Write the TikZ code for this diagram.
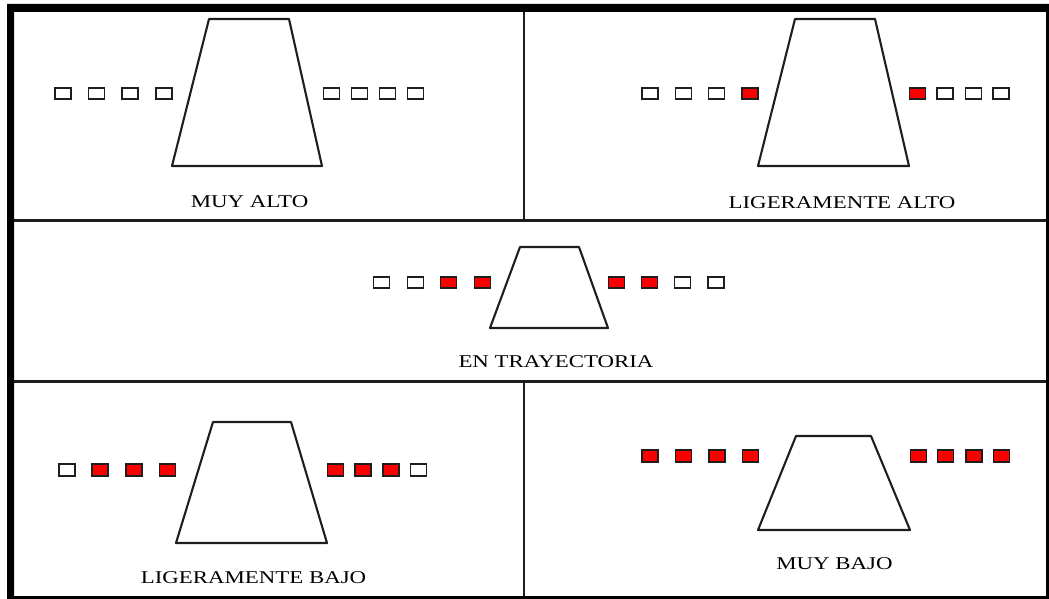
\documentclass[tikz,border=0pt]{standalone}
\usepackage{fontspec}
\newfontfamily\lblfont[FakeStretch=1.27]{Liberation Serif}
\definecolor{lampred}{RGB}{250,0,0}
\definecolor{ink}{RGB}{30,30,30}
\tikzset{
  lamp/.style={draw=ink, line width=1.8pt, minimum width=16pt, minimum height=11.5pt, inner sep=0pt, fill=white},
  lampon/.style={lamp, fill=lampred},
  strip/.style={draw=ink, line width=2.1pt, line join=round},
  divider/.style={draw=ink, line width=2.3pt},
  caption/.style={font=\lblfont\fontsize{18}{18}\selectfont, anchor=base, inner sep=0pt}
}
\begin{document}
\begin{tikzpicture}[x=1pt, y=-1pt]
\useasboundingbox (0,0) rectangle (1049,599);
% outer frame: heavy on top and left, light on right and bottom
\fill[black, even odd rule] (7,4) rectangle (1049,599) (14,12) rectangle (1046,596);
% panel dividers
\draw[divider] (14,220.5) -- (1046,220.5);
\draw[divider] (14,381.5) -- (1046,381.5);
\draw[divider] (524,12) -- (524,220.5);
\draw[divider] (524,381.5) -- (524,596);

% --- MUY ALTO ---
\draw[strip] (209,19) -- (289,19) -- (322,166) -- (172,166) -- cycle;
\node[lamp] (a1) at (63,93.5) {};
\node[lamp] (a2) at (96.5,93.5) {};
\node[lamp] (a3) at (130,93.5) {};
\node[lamp] (a4) at (164,93.5) {};
\node[lamp] (a5) at (331.5,93.5) {};
\node[lamp] (a6) at (359.5,93.5) {};
\node[lamp] (a7) at (387.5,93.5) {};
\node[lamp] (a8) at (415.5,93.5) {};
\node[caption] (ta) at (249.5,207) {MUY ALTO};

% --- LIGERAMENTE ALTO ---
\draw[strip] (795,19) -- (875,19) -- (909,166) -- (758,166) -- cycle;
\node[lamp] (b1) at (650,93.5) {};
\node[lamp] (b2) at (683.5,93.5) {};
\node[lamp] (b3) at (716.5,93.5) {};
\node[lampon] (b4) at (750,93.5) {};
\node[lampon] (b5) at (917.5,93.5) {};
\node[lamp] (b6) at (945,93.5) {};
\node[lamp] (b7) at (973.5,93.5) {};
\node[lamp] (b8) at (1001,93.5) {};
\node[caption] (tb) at (842,208) {LIGERAMENTE ALTO};

% --- EN TRAYECTORIA ---
\draw[strip] (520,247) -- (579,247) -- (608,328) -- (490,328) -- cycle;
\node[lamp] (c1) at (381.5,282.5) {};
\node[lamp] (c2) at (415.5,282.5) {};
\node[lampon] (c3) at (448.5,282.5) {};
\node[lampon] (c4) at (482.5,282.5) {};
\node[lampon] (c5) at (616.5,282.5) {};
\node[lampon] (c6) at (649.5,282.5) {};
\node[lamp] (c7) at (682.5,282.5) {};
\node[lamp] (c8) at (716,282.5) {};
\node[caption] (tc) at (556,367) {EN TRAYECTORIA};

% --- LIGERAMENTE BAJO ---
\draw[strip] (213,422) -- (291,422) -- (327,543) -- (176,543) -- cycle;
\node[lamp] (d1) at (67,470) {};
\node[lampon] (d2) at (100,470) {};
\node[lampon] (d3) at (134,470) {};
\node[lampon] (d4) at (167.5,470) {};
\node[lampon] (d5) at (335.5,470) {};
\node[lampon] (d6) at (363,470) {};
\node[lampon] (d7) at (391,470) {};
\node[lamp] (d8) at (418.5,470) {};
\node[caption] (td) at (253.5,583) {LIGERAMENTE BAJO};

% --- MUY BAJO ---
\draw[strip] (796,436) -- (871,436) -- (910,530) -- (758,530) -- cycle;
\node[lampon] (e1) at (650,456) {};
\node[lampon] (e2) at (683.5,456) {};
\node[lampon] (e3) at (717,456) {};
\node[lampon] (e4) at (750.5,456) {};
\node[lampon] (e5) at (918.5,456) {};
\node[lampon] (e6) at (945.5,456) {};
\node[lampon] (e7) at (974,456) {};
\node[lampon] (e8) at (1001.5,456) {};
\node[caption] (te) at (834.5,569) {MUY BAJO};
\end{tikzpicture}
\end{document}
